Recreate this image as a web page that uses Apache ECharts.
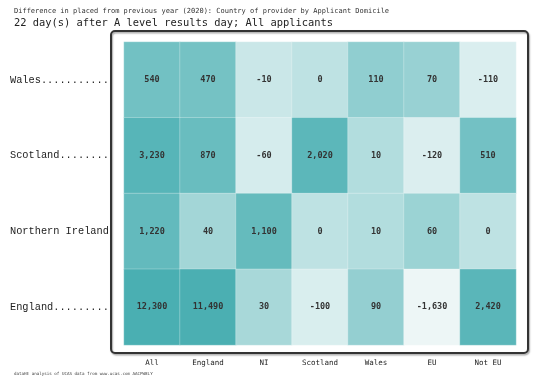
<!DOCTYPE html>
<html>
<head>
<meta charset="utf-8">
<script src="https://cdn.jsdelivr.net/npm/echarts@6/dist/echarts.min.js"></script>
<style>html,body{margin:0;padding:0;background:#fff;}#chart{width:550px;height:384px;}</style>
</head>
<body>
<div id="chart"></div>
<script>
const titleLine1 = 'Difference in placed from previous year (2020): Country of provider by Applicant Domicile';
const titleLine2 = '22 day(s) after A level results day; All applicants';
const sourceText = 'dataHE analysis of UCAS data from www.ucas.com AACPW8LY';
const columns = ['All', 'England', 'NI', 'Scotland', 'Wales', 'EU', 'Not EU'];
const rows = ['Wales...........', 'Scotland........', 'Northern Ireland', 'England.........'];
const walesValues = [540, 470, -10, 0, 110, 70, -110];
const scotlandValues = [3230, 870, -60, 2020, 10, -120, 510];
const northernIrelandValues = [1220, 40, 1100, 0, 10, 60, 0];
const englandValues = [12300, 11490, 30, -100, 90, -1630, 2420];
const rowValues = [walesValues, scotlandValues, northernIrelandValues, englandValues];

const cells = [];
rowValues.forEach((vals, r) => {
  vals.forEach((v, c) => {
    const s = Math.sign(v) * Math.log10(1 + Math.abs(v));
    cells.push([c, r, v, s]);
  });
});

const mono = 'DejaVu Sans Mono';
const chart = echarts.init(document.getElementById('chart'), null, {renderer: 'canvas'});
chart.setOption({
  backgroundColor: '#ffffff',
  animation: false,
  title: [
    {text: titleLine1, left: 9, top: 3, textStyle: {fontFamily: mono, fontSize: 7, fontWeight: 'normal', color: '#333'}},
    {text: titleLine2, left: 9, top: 13, textStyle: {fontFamily: mono, fontSize: 10.4, fontWeight: 'normal', color: '#222'}},
    {text: sourceText, left: 9, top: 367, textStyle: {fontFamily: mono, fontSize: 4.2, fontWeight: 'normal', color: '#444'}}
  ],
  graphic: [
    {type: 'rect', shape: {x: 111, y: 31, width: 417, height: 322, r: 4},
     style: {fill: 'none', stroke: '#333', lineWidth: 2, shadowColor: 'rgba(0,0,0,0.35)', shadowBlur: 1.5, shadowOffsetX: 1, shadowOffsetY: 1.5}, z: 0}
  ],
  grid: {left: 124, right: 34, top: 42, bottom: 39},
  xAxis: {
    type: 'category', data: columns,
    axisLine: {show: false}, axisTick: {show: false}, splitLine: {show: false}, splitArea: {show: false},
    axisLabel: {fontFamily: mono, fontSize: 7.5, color: '#222', margin: 14}
  },
  yAxis: {
    type: 'category', data: rows, inverse: true,
    axisLine: {show: false}, axisTick: {show: false}, splitLine: {show: false}, splitArea: {show: false},
    axisLabel: {fontFamily: 'Liberation Mono', fontSize: 10.3, color: '#222', align: 'left', margin: 114}
  },
  visualMap: {
    show: false, type: 'continuous', dimension: 3, min: -3.3, max: 4.1,
    inRange: {color: ['#eef7f7', '#e0f1f1', '#cfe9ea', '#c3e4e5', '#bae0e1', '#afdbdc', '#87cacc', '#5fb8bb', '#4aafb2']}
  },
  series: [{
    type: 'heatmap',
    data: cells,
    encode: {x: 0, y: 1, value: 2},
    itemStyle: {borderColor: 'rgba(255,255,255,0.45)', borderWidth: 0.6},
    label: {
      show: true, fontFamily: mono, fontSize: 8.5, fontWeight: 'bold', color: '#333',
      formatter: p => p.data[2].toLocaleString('en-US')
    },
    emphasis: {disabled: true}
  }]
});
</script>
</body>
</html>
